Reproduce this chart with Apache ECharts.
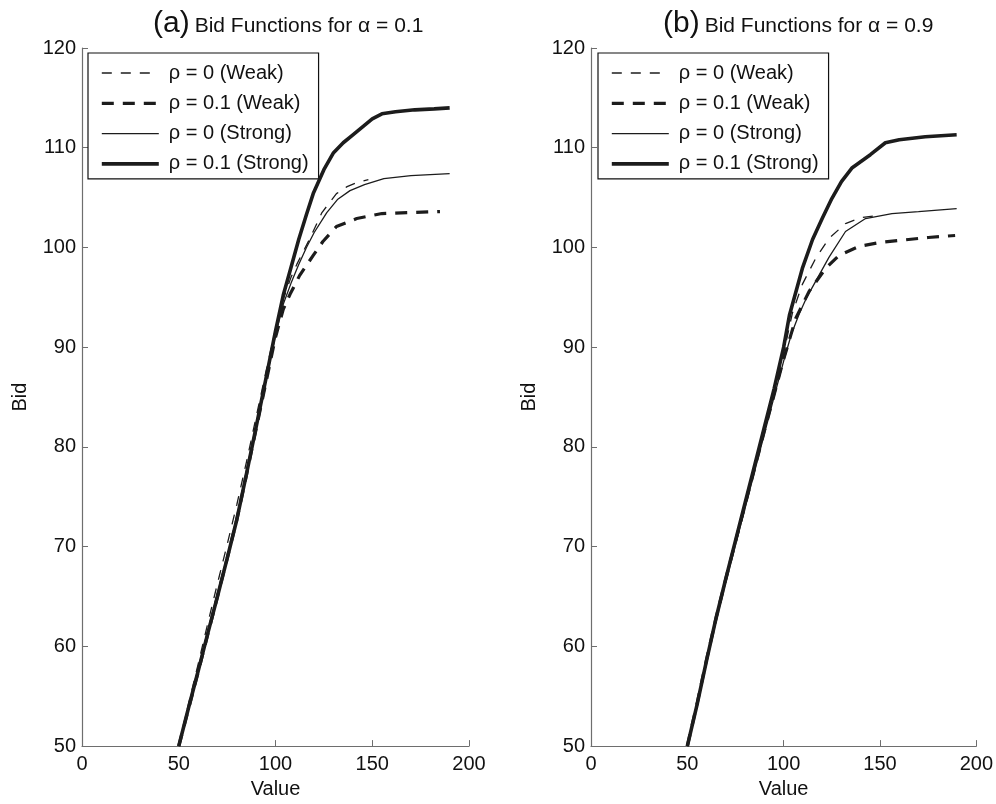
<!DOCTYPE html>
<html><head><meta charset="utf-8">
<script src="https://cdn.jsdelivr.net/npm/echarts@6/dist/echarts.min.js"></script>
<style>html,body{margin:0;padding:0;background:#fff}#c{width:996px;height:804px}</style>
</head><body><div id="c"></div>
<script>
// ---------- Data ----------
const seriesNames = ['ρ = 0 (Weak)', 'ρ = 0.1 (Weak)', 'ρ = 0 (Strong)', 'ρ = 0.1 (Strong)'];
const xTicks = [0, 50, 100, 150, 200];
const yTicks = [50, 60, 70, 80, 90, 100, 110, 120];

// Panel (a): alpha = 0.1
const aWeak0X   = [50, 55, 60, 65, 70, 75, 80, 85, 90, 95, 100, 104, 108, 111, 117.5, 124, 131.5, 137, 142, 148];
const aWeak0Y   = [50, 54.2, 58.2, 62.3, 66.3, 70.2, 74.2, 78.5, 83, 87.5, 91.8, 94.8, 97, 98.3, 100.8, 103.5, 105.4, 106.1, 106.5, 106.8];
const aWeak01X  = [50, 55, 60, 65, 70, 75, 80, 85, 90, 95, 100, 104, 107.5, 112.5, 119.5, 124.5, 131.5, 142, 155, 170, 185];
const aWeak01Y  = [50, 53.7, 57.4, 61.2, 65, 68.8, 72.7, 77.2, 81.8, 86.4, 91, 93.8, 95.3, 97.2, 99.2, 100.6, 102.1, 102.9, 103.4, 103.5, 103.6];
const aStrong0X = [50, 55, 60, 65, 70, 75, 80, 85, 90, 95, 100, 104, 108, 112, 116, 120, 126.5, 132, 138.5, 146, 156, 170, 190];
const aStrong0Y = [50, 53.8, 57.6, 61.5, 65.3, 69, 73, 77.4, 82, 86.6, 91.2, 94.3, 96.4, 98.3, 100, 101.5, 103.5, 104.8, 105.7, 106.3, 106.9, 107.2, 107.4];
const aStrong01X = [50, 55, 60, 65, 70, 75, 80, 85, 90, 95, 100, 104, 108, 112, 116, 119.5, 125, 130, 135, 140, 145, 150, 155, 162, 172, 182, 190];
const aStrong01Y = [50, 53.8, 57.5, 61.3, 65, 68.8, 72.7, 77.3, 82, 86.8, 91.6, 95.2, 98, 100.8, 103.3, 105.4, 107.8, 109.5, 110.5, 111.3, 112.1, 112.9, 113.4, 113.6, 113.8, 113.9, 114];

// Panel (b): alpha = 0.9
const bWeak0X   = [50, 55, 60, 65, 70, 75, 80, 85, 90, 95, 100, 104.5, 109.7, 116.6, 123.5, 132.1, 140, 149];
const bWeak0Y   = [50, 54.1, 58.5, 62.8, 66.7, 70.5, 74.2, 78, 81.8, 85.5, 89.4, 93.4, 96.3, 98.9, 100.9, 102.4, 103, 103.2];
const bWeak01X  = [50, 55, 60, 65, 70, 75, 80, 85, 90, 95, 100, 106.3, 113.2, 121.8, 128.7, 139, 150, 159.7, 175, 189];
const bWeak01Y  = [50, 54.2, 58.7, 62.9, 66.8, 70.5, 74.2, 77.9, 81.6, 85.2, 88.8, 92.9, 95.6, 97.9, 99.2, 100.1, 100.5, 100.7, 101, 101.2];
const bStrong0X = [50, 55, 60, 65, 70, 75, 80, 85, 90, 95, 100, 104, 108, 112, 116.6, 123.5, 132.1, 142.5, 156.2, 170, 189.8];
const bStrong0Y = [50, 53.9, 58.4, 62.6, 66.5, 70.2, 73.9, 77.6, 81.3, 85, 88.6, 91.3, 93.3, 95, 96.6, 99, 101.6, 102.9, 103.4, 103.6, 103.9];
const bStrong01X = [50, 55, 60, 65, 70, 75, 80, 85, 90, 95, 100, 103, 109.7, 115, 120, 125, 130, 135.6, 145, 152.8, 160, 173.5, 189.8];
const bStrong01Y = [50, 54.1, 58.6, 62.9, 66.8, 70.6, 74.4, 78.2, 82, 85.8, 90, 93.2, 97.9, 100.8, 102.9, 104.9, 106.6, 108, 109.3, 110.5, 110.8, 111.1, 111.3];

// ---------- Build ----------
const zip = (xs, ys) => xs.map((x, i) => [x, ys[i]]);
const INK = '#1c1c1c';
const styles = [
  { width: 1.3, type: [10, 9] },
  { width: 3.2, type: [12, 9] },
  { width: 1.3, type: 'solid' },
  { width: 3.6, type: 'solid' }
];
const panels = [
  [zip(aWeak0X, aWeak0Y), zip(aWeak01X, aWeak01Y), zip(aStrong0X, aStrong0Y), zip(aStrong01X, aStrong01Y)],
  [zip(bWeak0X, bWeak0Y), zip(bWeak01X, bWeak01Y), zip(bStrong0X, bStrong0Y), zip(bStrong01X, bStrong01Y)]
];
const FONT = '"Liberation Sans", Arial, Helvetica, sans-serif';
const AXIS = '#6e6e6e';

const series = [];
panels.forEach((p, pi) => {
  p.forEach((d, si) => {
    series.push({
      type: 'line', name: seriesNames[si], xAxisIndex: pi, yAxisIndex: pi,
      data: d, symbol: 'none', showSymbol: false, smooth: false, animation: false,
      lineStyle: { color: INK, width: styles[si].width, type: styles[si].type, cap: 'butt' },
      itemStyle: { color: INK }, z: 2 + si
    });
  });
});

const mkX = (gi) => ({
  type: 'value', gridIndex: gi, min: 0, max: 200, interval: 50,
  name: 'Value', nameLocation: 'middle', nameGap: 30,
  nameTextStyle: { color: '#111', fontSize: 20, fontFamily: FONT },
  axisLine: { show: true, lineStyle: { color: AXIS, width: 1.2 } },
  axisTick: { show: true, inside: true, length: 6, lineStyle: { color: AXIS } },
  axisLabel: { color: '#111', fontSize: 20, fontFamily: FONT, margin: 8 },
  splitLine: { show: false }
});
const mkY = (gi) => ({
  type: 'value', gridIndex: gi, min: 50, max: 120, interval: 10,
  name: 'Bid', nameLocation: 'middle', nameGap: 52, nameRotate: 90,
  nameTextStyle: { color: '#111', fontSize: 20, fontFamily: FONT },
  axisLine: { show: true, lineStyle: { color: AXIS, width: 1.2 } },
  axisTick: { show: true, inside: true, length: 6, lineStyle: { color: AXIS } },
  axisLabel: { color: '#111', fontSize: 20, fontFamily: FONT, margin: 6 },
  splitLine: { show: false }
});
const mkLegend = (left) => ({
  orient: 'vertical', left: left, top: 53,
  data: seriesNames, backgroundColor: '#fff', borderColor: '#111', borderWidth: 1.2, borderRadius: 0,
  padding: [10, 10, 5, 12], itemWidth: 57, itemHeight: 20, itemGap: 10.3,
  selectedMode: false,
  lineStyle: { width: 'inherit' },
  itemStyle: { opacity: 0, borderWidth: 0 },
  textStyle: { color: '#111', fontSize: 20, fontFamily: FONT, padding: [0, 0, 0, 5] }
});
const mkTitle = (left, tag, alpha) => ({
  left: left, top: 4,
  text: '{a|' + tag + '} {b|Bid Functions for α = ' + alpha + '}',
  textStyle: {
    fontWeight: 'normal',
    rich: {
      a: { fontSize: 30, fontFamily: FONT, color: '#111', fontWeight: 'normal' },
      b: { fontSize: 21, fontFamily: FONT, color: '#111', fontWeight: 'normal', padding: [4, 0, 0, 0] }
    }
  }
});

const chart = echarts.init(document.getElementById('c'), null, { renderer: 'canvas' });
chart.setOption({
  backgroundColor: '#fff',
  animation: false,
  title: [mkTitle(148, '(a)', '0.1'), mkTitle(658, '(b)', '0.9')],
  legend: [mkLegend(88), mkLegend(598)],
  grid: [
    { left: 82, right: 996 - 469, top: 48, bottom: 804 - 752, containLabel: false },
    { left: 591, right: 996 - 978, top: 48, bottom: 804 - 752, containLabel: false }
  ],
  xAxis: [mkX(0), mkX(1)],
  yAxis: [mkY(0), mkY(1)],
  series: series
});
</script></body></html>
